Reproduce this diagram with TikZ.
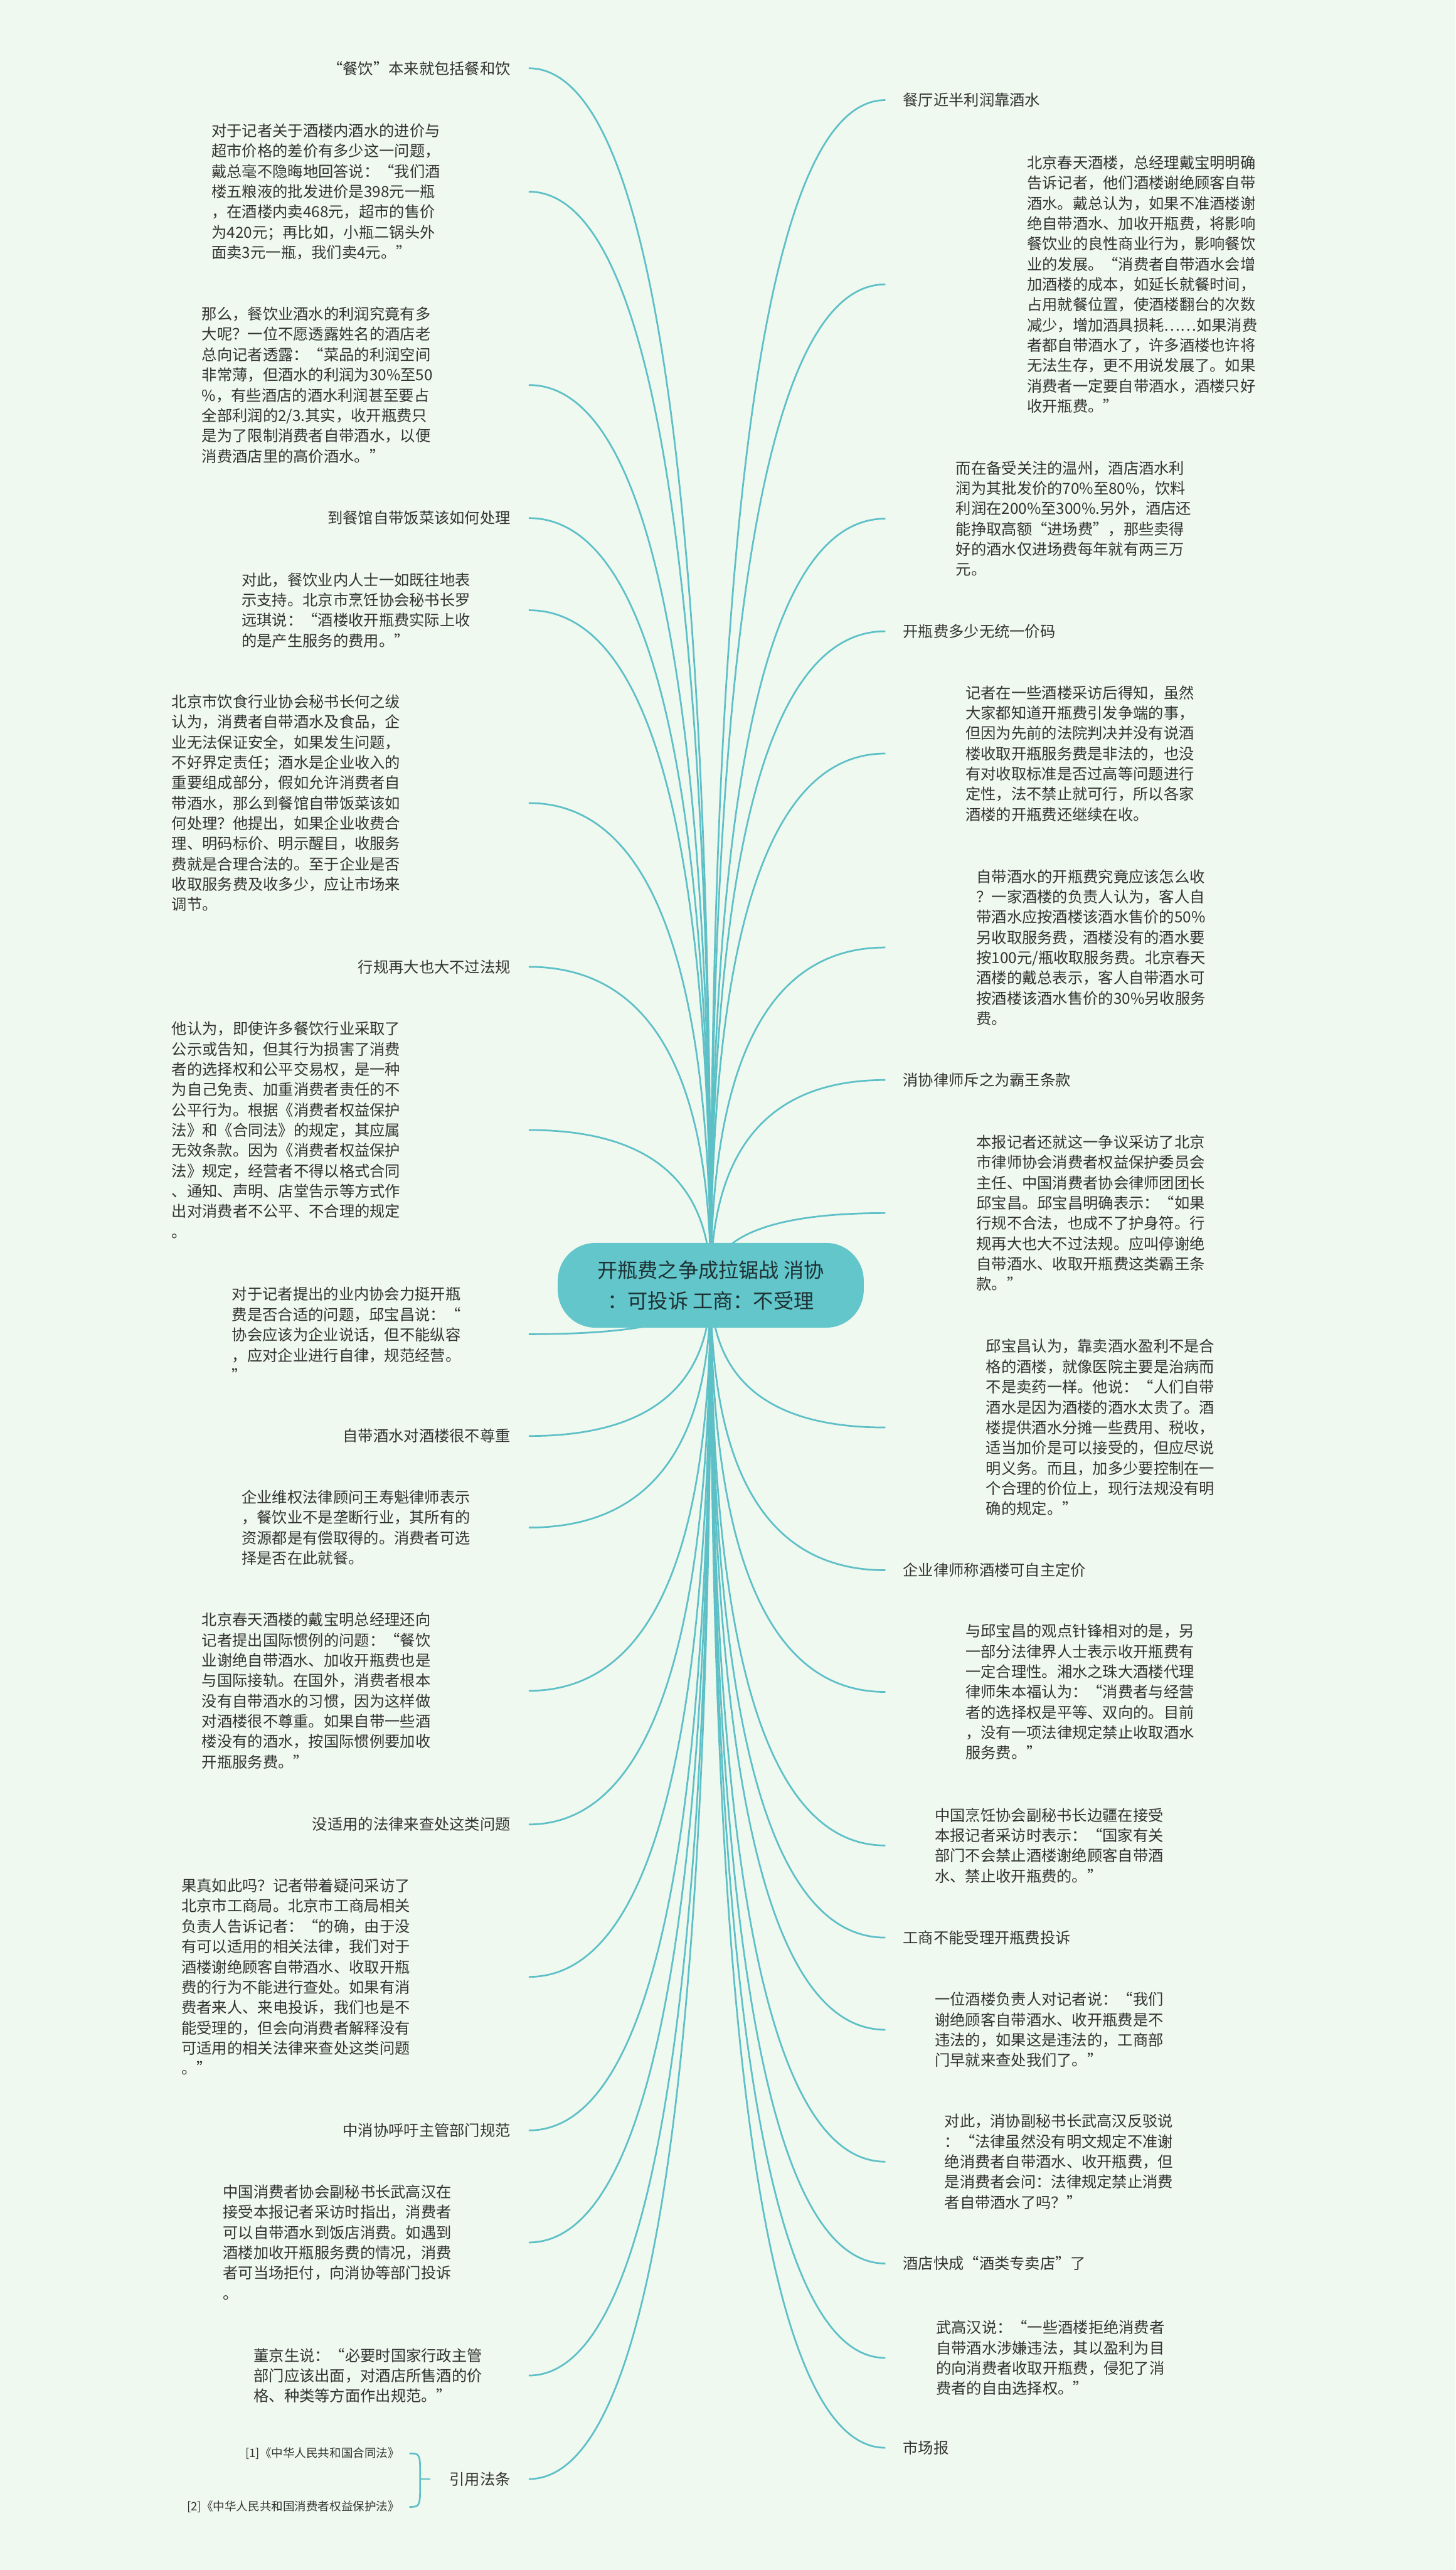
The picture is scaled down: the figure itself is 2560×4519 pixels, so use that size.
\documentclass[tikz,border=0pt]{standalone}
\usepackage{fontspec}
\setmainfont{Noto Sans CJK SC}
\usetikzlibrary{calc}
\definecolor{bgc}{RGB}{240,249,240}
\definecolor{edgec}{RGB}{94,192,199}
\definecolor{rootc}{RGB}{98,198,203}
\definecolor{txt}{RGB}{51,51,51}
\definecolor{roottxt}{RGB}{30,50,52}
\newcommand\edgeto[1]{\draw[edge] (rc) .. controls ($(rc)!0.6667!(rc|-#1)$) and ($(#1)!0.6667!(rc|-#1)$) .. (#1);}
\begin{document}
\begin{tikzpicture}[x=1pt,y=-1pt,
  edge/.style={draw=edgec,line width=3pt},
  para/.style={anchor=west,align=left,inner sep=0pt,text=txt,font={\fontsize{26.8pt}{35.7pt}\selectfont}},
  ltopic/.style={anchor=east,inner sep=0pt,text=txt,font={\fontsize{26.8pt}{35.7pt}\selectfont}},
  rtopic/.style={anchor=west,inner sep=0pt,text=txt,font={\fontsize{26.8pt}{35.7pt}\selectfont}},
  refnode/.style={anchor=east,inner sep=0pt,text=txt,font={\fontsize{20.5pt}{26pt}\selectfont}},
  rootbox/.style={fill=rootc,rounded corners=66pt,minimum width=538pt,minimum height=149pt,align=center,text=roottxt,inner sep=0pt,font={\fontsize{35.5pt}{54pt}\selectfont}}
]
\fill[bgc] (0,0) rectangle (2560,4519);
\useasboundingbox (0,0) rectangle (2560,4519);
\coordinate (rc) at (1250,2260);

% ---------- left side ----------
\node[ltopic] (t1) at (898,120) {“餐饮”本来就包括餐和饮};
\coordinate (e1) at (930,120);
\node[para] (pa) at (372,337) {对于记者关于酒楼内酒水的进价与\\超市价格的差价有多少这一问题，\\戴总毫不隐晦地回答说：“我们酒\\楼五粮液的批发进价是398元一瓶\\，在酒楼内卖468元，超市的售价\\为420元；再比如，小瓶二锅头外\\面卖3元一瓶，我们卖4元。”};
\coordinate (e2) at (930,337);
\node[para] (pb) at (355,677) {那么，餐饮业酒水的利润究竟有多\\大呢？一位不愿透露姓名的酒店老\\总向记者透露：“菜品的利润空间\\非常薄，但酒水的利润为30\%至50\\\%，有些酒店的酒水利润甚至要占\\全部利润的2/3.其实，收开瓶费只\\是为了限制消费者自带酒水，以便\\消费酒店里的高价酒水。”};
\coordinate (e3) at (930,677);
\node[ltopic] (t2) at (898,911) {到餐馆自带饭菜该如何处理};
\coordinate (e4) at (930,911);
\node[para] (pc) at (425,1073) {对此，餐饮业内人士一如既往地表\\示支持。北京市烹饪协会秘书长罗\\远琪说：“酒楼收开瓶费实际上收\\的是产生服务的费用。”};
\coordinate (e5) at (930,1073);
\node[para] (pd) at (302,1412) {北京市饮食行业协会秘书长何之绂\\认为，消费者自带酒水及食品，企\\业无法保证安全，如果发生问题，\\不好界定责任；酒水是企业收入的\\重要组成部分，假如允许消费者自\\带酒水，那么到餐馆自带饭菜该如\\何处理？他提出，如果企业收费合\\理、明码标价、明示醒目，收服务\\费就是合理合法的。至于企业是否\\收取服务费及收多少，应让市场来\\调节。};
\coordinate (e6) at (930,1412);
\node[ltopic] (t3) at (898,1700) {行规再大也大不过法规};
\coordinate (e7) at (930,1700);
\node[para] (pe) at (302,1987) {他认为，即使许多餐饮行业采取了\\公示或告知，但其行为损害了消费\\者的选择权和公平交易权，是一种\\为自己免责、加重消费者责任的不\\公平行为。根据《消费者权益保护\\法》和《合同法》的规定，其应属\\无效条款。因为《消费者权益保护\\法》规定，经营者不得以格式合同\\、通知、声明、店堂告示等方式作\\出对消费者不公平、不合理的规定\\。};
\coordinate (e8) at (930,1987);
\node[para] (pf) at (408,2346) {对于记者提出的业内协会力挺开瓶\\费是否合适的问题，邱宝昌说：“\\协会应该为企业说话，但不能纵容\\，应对企业进行自律，规范经营。\\”};
\coordinate (e9) at (930,2346);
\node[ltopic] (t4) at (898,2525) {自带酒水对酒楼很不尊重};
\coordinate (e10) at (930,2525);
\node[para] (pg) at (425,2686) {企业维权法律顾问王寿魁律师表示\\，餐饮业不是垄断行业，其所有的\\资源都是有偿取得的。消费者可选\\择是否在此就餐。};
\coordinate (e11) at (930,2686);
\node[para] (ph) at (355,2973) {北京春天酒楼的戴宝明总经理还向\\记者提出国际惯例的问题：“餐饮\\业谢绝自带酒水、加收开瓶费也是\\与国际接轨。在国外，消费者根本\\没有自带酒水的习惯，因为这样做\\对酒楼很不尊重。如果自带一些酒\\楼没有的酒水，按国际惯例要加收\\开瓶服务费。”};
\coordinate (e12) at (930,2973);
\node[ltopic] (t5) at (898,3208) {没适用的法律来查处这类问题};
\coordinate (e13) at (930,3208);
\node[para] (pi) at (319,3476) {果真如此吗？记者带着疑问采访了\\北京市工商局。北京市工商局相关\\负责人告诉记者：“的确，由于没\\有可以适用的相关法律，我们对于\\酒楼谢绝顾客自带酒水、收取开瓶\\费的行为不能进行查处。如果有消\\费者来人、来电投诉，我们也是不\\能受理的，但会向消费者解释没有\\可适用的相关法律来查处这类问题\\。”};
\coordinate (e14) at (930,3476);
\node[ltopic] (t6) at (898,3746) {中消协呼吁主管部门规范};
\coordinate (e15) at (930,3746);
\node[para] (pj) at (392,3943) {中国消费者协会副秘书长武高汉在\\接受本报记者采访时指出，消费者\\可以自带酒水到饭店消费。如遇到\\酒楼加收开瓶服务费的情况，消费\\者可当场拒付，向消协等部门投诉\\。};
\coordinate (e16) at (930,3943);
\node[para] (pk) at (446,4177) {董京生说：“必要时国家行政主管\\部门应该出面，对酒店所售酒的价\\格、种类等方面作出规范。”};
\coordinate (e17) at (930,4177);
\node[ltopic] (t7) at (898,4359) {引用法条};
\coordinate (e18) at (930,4359);

% references
\coordinate (bs) at (757,4359);
\coordinate (bc) at (739,4359);
\node[refnode] (ref1) at (703,4314) {[1]《中华人民共和国合同法》};
\node[refnode] (ref2) at (703,4408) {[2]《中华人民共和国消费者权益保护法》};
\coordinate (b1) at (720,4314);
\coordinate (b2) at (720,4408);
\draw[edge] (bs) -- (bc);
\draw[edge] (bc) .. controls (bc|-b1) .. (b1);
\draw[edge] (bc) .. controls (bc|-b2) .. (b2);

% ---------- right side ----------
\node[rtopic] (r1) at (1588,176) {餐厅近半利润靠酒水};
\coordinate (f1) at (1557,176);
\node[para] (pl) at (1806,500) {北京春天酒楼，总经理戴宝明明确\\告诉记者，他们酒楼谢绝顾客自带\\酒水。戴总认为，如果不准酒楼谢\\绝自带酒水、加收开瓶费，将影响\\餐饮业的良性商业行为，影响餐饮\\业的发展。“消费者自带酒水会增\\加酒楼的成本，如延长就餐时间，\\占用就餐位置，使酒楼翻台的次数\\减少，增加酒具损耗……如果消费\\者都自带酒水了，许多酒楼也许将\\无法生存，更不用说发展了。如果\\消费者一定要自带酒水，酒楼只好\\收开瓶费。”};
\coordinate (f2) at (1557,500);
\node[para] (pm) at (1681,912) {而在备受关注的温州，酒店酒水利\\润为其批发价的70\%至80\%，饮料\\利润在200\%至300\%.另外，酒店还\\能挣取高额“进场费”，那些卖得\\好的酒水仅进场费每年就有两三万\\元。};
\coordinate (f3) at (1557,912);
\node[rtopic] (r2) at (1588,1110) {开瓶费多少无统一价码};
\coordinate (f4) at (1557,1110);
\node[para] (pn) at (1698,1325) {记者在一些酒楼采访后得知，虽然\\大家都知道开瓶费引发争端的事，\\但因为先前的法院判决并没有说酒\\楼收取开瓶服务费是非法的，也没\\有对收取标准是否过高等问题进行\\定性，法不禁止就可行，所以各家\\酒楼的开瓶费还继续在收。};
\coordinate (f5) at (1557,1325);
\node[para] (po) at (1717,1666) {自带酒水的开瓶费究竟应该怎么收\\？一家酒楼的负责人认为，客人自\\带酒水应按酒楼该酒水售价的50\%\\另收取服务费，酒楼没有的酒水要\\按100元/瓶收取服务费。北京春天\\酒楼的戴总表示，客人自带酒水可\\按酒楼该酒水售价的30\%另收服务\\费。};
\coordinate (f6) at (1557,1666);
\node[rtopic] (r3) at (1588,1899) {消协律师斥之为霸王条款};
\coordinate (f7) at (1557,1899);
\node[para] (pp) at (1717,2133) {本报记者还就这一争议采访了北京\\市律师协会消费者权益保护委员会\\主任、中国消费者协会律师团团长\\邱宝昌。邱宝昌明确表示：“如果\\行规不合法，也成不了护身符。行\\规再大也大不过法规。应叫停谢绝\\自带酒水、收取开瓶费这类霸王条\\款。”};
\coordinate (f8) at (1557,2133);
\node[para] (pq) at (1734,2510) {邱宝昌认为，靠卖酒水盈利不是合\\格的酒楼，就像医院主要是治病而\\不是卖药一样。他说：“人们自带\\酒水是因为酒楼的酒水太贵了。酒\\楼提供酒水分摊一些费用、税收，\\适当加价是可以接受的，但应尽说\\明义务。而且，加多少要控制在一\\个合理的价位上，现行法规没有明\\确的规定。”};
\coordinate (f9) at (1557,2510);
\node[rtopic] (r4) at (1588,2761) {企业律师称酒楼可自主定价};
\coordinate (f10) at (1557,2761);
\node[para] (pr) at (1698,2975) {与邱宝昌的观点针锋相对的是，另\\一部分法律界人士表示收开瓶费有\\一定合理性。湘水之珠大酒楼代理\\律师朱本福认为：“消费者与经营\\者的选择权是平等、双向的。目前\\，没有一项法律规定禁止收取酒水\\服务费。”};
\coordinate (f11) at (1557,2975);
\node[para] (ps) at (1644,3245) {中国烹饪协会副秘书长边疆在接受\\本报记者采访时表示：“国家有关\\部门不会禁止酒楼谢绝顾客自带酒\\水、禁止收开瓶费的。”};
\coordinate (f12) at (1557,3245);
\node[rtopic] (r5) at (1588,3407) {工商不能受理开瓶费投诉};
\coordinate (f13) at (1557,3407);
\node[para] (pt) at (1644,3569) {一位酒楼负责人对记者说：“我们\\谢绝顾客自带酒水、收开瓶费是不\\违法的，如果这是违法的，工商部\\门早就来查处我们了。”};
\coordinate (f14) at (1557,3569);
\node[para] (pu) at (1661,3801) {对此，消协副秘书长武高汉反驳说\\：“法律虽然没有明文规定不准谢\\绝消费者自带酒水、收开瓶费，但\\是消费者会问：法律规定禁止消费\\者自带酒水了吗？”};
\coordinate (f15) at (1557,3801);
\node[rtopic] (r6) at (1588,3980) {酒店快成“酒类专卖店”了};
\coordinate (f16) at (1557,3980);
\node[para] (pv) at (1646,4146) {武高汉说：“一些酒楼拒绝消费者\\自带酒水涉嫌违法，其以盈利为目\\的向消费者收取开瓶费，侵犯了消\\费者的自由选择权。”};
\coordinate (f17) at (1557,4146);
\node[rtopic] (r7) at (1588,4304) {市场报};
\coordinate (f18) at (1557,4304);

% ---------- edges ----------
\foreach \e in {e1,e2,e3,e4,e5,e6,e7,e8,e9,e10,e11,e12,e13,e14,e15,e16,e17,e18,f1,f2,f3,f4,f5,f6,f7,f8,f9,f10,f11,f12,f13,f14,f15,f16,f17,f18}{\edgeto{\e}}

% ---------- root ----------
\node[rootbox] (root) at (rc) {开瓶费之争成拉锯战 消协\\：可投诉 工商：不受理};
\end{tikzpicture}
\end{document}
